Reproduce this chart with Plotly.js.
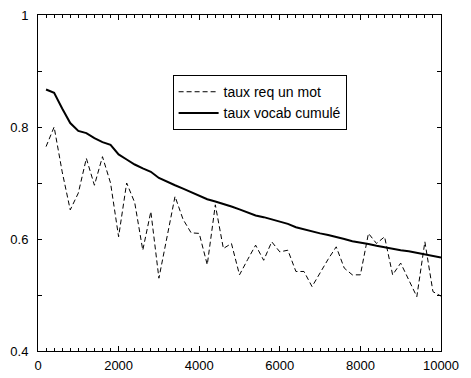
<!DOCTYPE html>
<html>
<head>
<meta charset="utf-8">
<script src="https://cdn.plot.ly/plotly-3.0.1.min.js"></script>
<style>html,body{margin:0;padding:0;background:#fff;}#chart{width:471px;height:378px;}</style>
</head>
<body>
<div id="chart"></div>
<script>
// x positions (words)
var xVals = [200,400,600,800,1000,1200,1400,1600,1800,2000,
             2200,2400,2600,2800,3000,3200,3400,3600,3800,4000,
             4200,4400,4600,4800,5000,5200,5400,5600,5800,6000,
             6200,6400,6600,6800,7000,7200,7400,7600,7800,8000,
             8200,8400,8600,8800,9000,9200,9400,9600,9800,10000];
// taux req un mot (dashed)
var tauxReq = [0.765,0.800,0.720,0.652,0.682,0.744,0.696,0.747,0.700,0.604,
               0.700,0.665,0.580,0.649,0.530,0.600,0.676,0.635,0.611,0.610,
               0.554,0.661,0.583,0.592,0.536,0.563,0.589,0.562,0.595,0.577,
               0.580,0.542,0.542,0.515,0.540,0.564,0.586,0.548,0.536,0.536,
               0.610,0.592,0.604,0.536,0.557,0.527,0.497,0.595,0.506,0.498];
// taux vocab cumulé (solid)
var tauxVocab = [0.867,0.861,0.833,0.807,0.793,0.789,0.780,0.773,0.768,0.751,
                 0.742,0.733,0.726,0.720,0.709,0.702,0.696,0.690,0.684,0.677,
                 0.671,0.667,0.663,0.658,0.653,0.647,0.642,0.639,0.635,0.631,
                 0.627,0.621,0.617,0.613,0.610,0.607,0.604,0.600,0.596,0.594,
                 0.591,0.588,0.585,0.582,0.580,0.578,0.575,0.572,0.570,0.567];
var yTickVals = [0.4,0.5,0.6,0.7,0.8,0.9,1];
var yTickText = ['0.4','','0.6','','0.8','','1'];
var seriesNames = ['taux req un mot','taux vocab cumulé'];

var traces = [
  {x: xVals, y: tauxReq, type: 'scatter', mode: 'lines', name: seriesNames[0],
   line: {color: '#000', width: 1, dash: '5px,3px'}},
  {x: xVals, y: tauxVocab, type: 'scatter', mode: 'lines', name: seriesNames[1],
   line: {color: '#000', width: 2}}
];
var layout = {
  width: 471, height: 378,
  margin: {l: 38, r: 30, t: 15, b: 27, pad: 0},
  paper_bgcolor: '#fff', plot_bgcolor: '#fff',
  font: {family: 'Liberation Sans, Arial, sans-serif', size: 13, color: '#000'},
  showlegend: true,
  legend: {x: 0.334, y: 0.821, xanchor: 'left', yanchor: 'top',
           bgcolor: '#fff', bordercolor: '#000', borderwidth: 1, itemwidth: 40,
           font: {size: 14, color: '#000'}, tracegroupgap: 0},
  xaxis: {range: [0, 10000], tickmode: 'linear', tick0: 0, dtick: 2000,
          tickformat: 'd', exponentformat: 'none',
          ticks: 'inside', ticklen: 5, tickwidth: 1, tickcolor: '#000',
          minor: {dtick: 200, ticks: 'inside', ticklen: 3, tickwidth: 1, tickcolor: '#000'},
          showline: true, linecolor: '#000', linewidth: 1, mirror: 'ticks',
          showgrid: false, zeroline: false, ticklabelstandoff: 2},
  yaxis: {range: [0.4, 1], tickmode: 'array', tickvals: yTickVals, ticktext: yTickText,
          ticks: 'inside', ticklen: 4, tickwidth: 1, tickcolor: '#000',
          showline: true, linecolor: '#000', linewidth: 1, mirror: 'ticks',
          showgrid: false, zeroline: false, ticklabelstandoff: 6}
};
Plotly.newPlot('chart', traces, layout, {displayModeBar: false, staticPlot: true});
</script>
</body>
</html>
